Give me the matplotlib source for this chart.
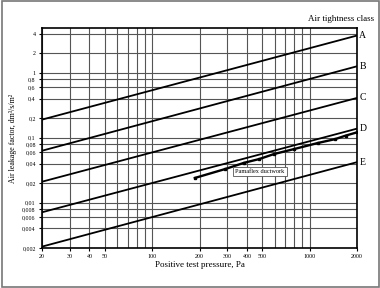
import matplotlib

matplotlib.use("Agg")
import matplotlib.pyplot as plt
from matplotlib.patches import Rectangle

plt.rcParams["font.family"] = ["Liberation Serif", "DejaVu Serif"]

# class lines: end points read at 20 Pa and 2000 Pa
class_names = ["A", "B", "C", "D", "E"]
class_p = [20, 2000]
class_A = [0.19, 3.75]
class_B = [0.063, 1.26]
class_C = [0.021, 0.41]
class_D = [0.0071, 0.138]
class_E = [0.0021, 0.042]

# measured ductwork points
pama_p = [187, 292, 383, 480, 594, 800, 1130, 1450, 1700, 2000]
pama_q = [0.024, 0.033, 0.041, 0.047, 0.056, 0.067, 0.083, 0.095, 0.108, 0.121]

x_ticks = [20, 30, 40, 50, 100, 200, 300, 400, 500, 1000, 2000]
x_grid = [20, 30, 40, 50, 60, 70, 80, 90, 100, 200, 300, 400, 500,
          600, 700, 800, 900, 1000, 2000]
y_ticks = [0.002, 0.004, 0.006, 0.008, 0.01, 0.02, 0.04, 0.06, 0.08,
           0.1, 0.2, 0.4, 0.6, 0.8, 1, 2, 4]


def fmt(v):
    s = f"{v:g}"
    return s.replace(".", ",")


fig = plt.figure(figsize=(3.8, 2.88), dpi=100)
ax = fig.add_axes([42 / 380, 1 - 248 / 288, 315 / 380, 220 / 288])
ax.set_xscale("log")
ax.set_yscale("log")
ax.set_xlim(20, 2000)
ax.set_ylim(0.002, 4.9)

for x in x_grid:
    ax.axvline(x, color="#555555", lw=0.8, zorder=1)
for y in y_ticks:
    ax.axhline(y, color="#555555", lw=0.8, zorder=1)

for name, vals in zip(class_names, [class_A, class_B, class_C, class_D, class_E]):
    ax.plot(class_p, vals, color="black", lw=1.3, zorder=3)
    ax.text(2000 * 1.035, vals[-1], name, ha="left", va="center", fontsize=7)

ax.plot(pama_p, pama_q, color="black", lw=1.7, marker="s", ms=1.6, zorder=4)
ax.text(484, 0.0305, "Pamaflex ductwork", ha="center", va="center", fontsize=4.5,
        bbox=dict(boxstyle="square,pad=0.35", fc="white", ec="#555555", lw=0.6),
        zorder=5)

ax.xaxis.set_minor_locator(matplotlib.ticker.NullLocator())
ax.yaxis.set_minor_locator(matplotlib.ticker.NullLocator())
ax.set_xticks(x_ticks)
ax.set_xticklabels([fmt(v) for v in x_ticks])
ax.set_yticks(y_ticks)
ax.set_yticklabels([fmt(v) for v in y_ticks])
ax.tick_params(labelsize=4.3, length=2.5, width=0.8, pad=2)
for s in ax.spines.values():
    s.set_linewidth(1.2)

fig.text(199.5 / 380, 1 - 265 / 288, "Positive test pressure, Pa", ha="center",
         va="center", fontsize=6.5)
fig.text(13 / 380, 1 - 138 / 288, "Air leakage factor, dm³/s/m²", ha="center",
         va="center", rotation=90, fontsize=5.7)
fig.text(374 / 380, 1 - 19 / 288, "Air tightness class", ha="right",
         va="center", fontsize=6.5)

fig.patches.append(Rectangle((0.004, 0.003), 0.993, 0.994, transform=fig.transFigure,
                             fill=False, ec="#777777", lw=1.2))

fig.savefig("out.png", dpi=100)
